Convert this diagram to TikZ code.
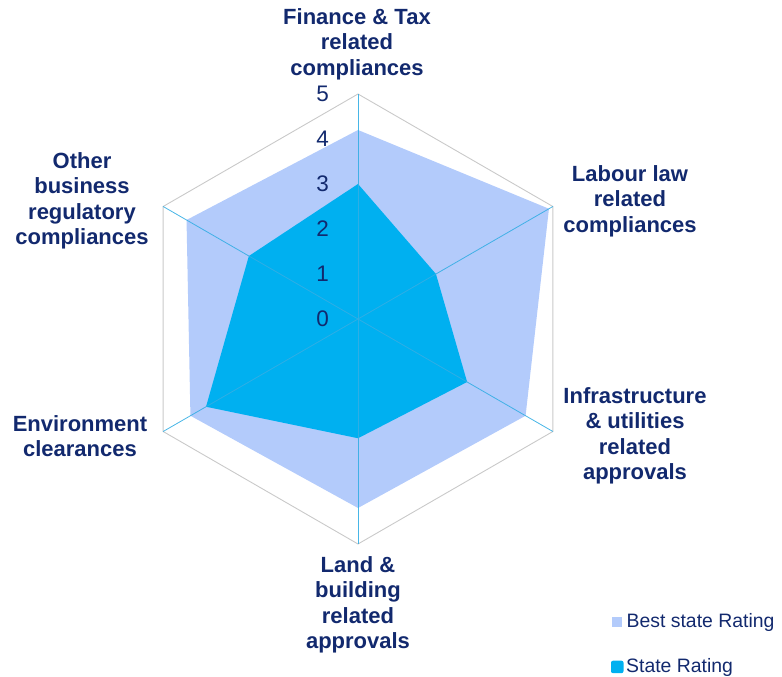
\documentclass[tikz,border=0pt]{standalone}
\usepackage{fontspec}
\setmainfont{Liberation Sans}
\usetikzlibrary{calc}
\definecolor{navy}{HTML}{12296E}
\definecolor{bestc}{HTML}{B3CBFB}
\definecolor{statec}{HTML}{00B0F0}
\definecolor{spokec}{HTML}{34AEE4}
\definecolor{gridc}{HTML}{C9C9C9}
\begin{document}
\begin{tikzpicture}[x=1pt,y=1pt,
  axlabel/.style={font=\bfseries\fontsize{22}{25.5}\selectfont, text=navy, align=center, inner sep=0pt},
  ticklab/.style={font=\fontsize{22.5}{24}\selectfont, text=navy, anchor=east, inner sep=0pt},
  legtext/.style={font=\fontsize{19.4}{21}\selectfont, text=navy, anchor=west, inner sep=0pt}]
\useasboundingbox (0,0) rectangle (782,677);
\coordinate (C) at (358,358);
% outer vertices
\foreach \a [count=\i] in {90,30,-30,-90,-150,150}
  \path (C) ++(\a:225) coordinate (V\i);
% best state rating
\foreach \a/\v [count=\i] in {90/4.2,30/4.9,-30/4.3,-90/4.2,-150/4.3,150/4.4}
  \path (C) ++(\a:45*\v) coordinate (B\i);
% state rating
\foreach \a/\v [count=\i] in {90/3.0,30/2.0,-30/2.8,-90/2.65,-150/3.9,150/2.8}
  \path (C) ++(\a:45*\v) coordinate (S\i);
\fill[bestc] (B1) -- (B2) -- (B3) -- (B4) -- (B5) -- (B6) -- cycle;
\fill[statec] (S1) -- (S2) -- (S3) -- (S4) -- (S5) -- (S6) -- cycle;
\draw[gridc, line width=0.9pt] (V1) -- (V2) -- (V3) -- (V4) -- (V5) -- (V6) -- cycle;
\foreach \i in {1,...,6}
  \draw[spokec, line width=0.8pt, opacity=0.9] (C) -- (V\i);
% tick labels
\foreach \k in {0,...,5}
  \node[ticklab] (t\k) at (329,358+45*\k) {\k};
% axis labels
\node[axlabel] (l1) at (357,633) {Finance \& Tax\\related\\compliances};
\node[axlabel] (l2) at (630,476) {Labour law\\related\\compliances};
\node[axlabel] (l3) at (635,241) {Infrastructure\\\& utilities\\related\\approvals};
\node[axlabel] (l4) at (358,72) {Land \&\\building\\related\\approvals};
\node[axlabel] (l5) at (80,241) {Environment\\clearances};
\node[axlabel] (l6) at (82,476) {Other\\business\\regulatory\\compliances};
% legend
\fill[bestc] (612,50) rectangle (622,60);
\node[legtext] (lg1) at (626.5,55) {Best state Rating};
\fill[statec, rounded corners=2pt] (611,3.8) rectangle (623.5,16.3);
\node[legtext] (lg2) at (626,10) {State Rating};
\end{tikzpicture}
\end{document}
